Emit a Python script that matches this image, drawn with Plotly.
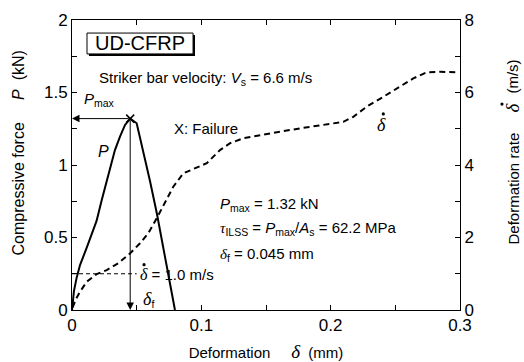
import plotly.graph_objects as go

# Compressive force P (kN) vs deformation (mm)
p_x = [0.0, 0.0005, 0.0015, 0.0036, 0.0062, 0.0114, 0.019, 0.023, 0.0267, 0.0295, 0.0332, 0.0371,
       0.041, 0.0440, 0.045, 0.050, 0.055, 0.0603, 0.0657, 0.0707, 0.0758, 0.0796]
p_val = [0.0, 0.05, 0.13, 0.223, 0.31, 0.43, 0.614, 0.759, 0.89, 0.99, 1.103, 1.195,
         1.276, 1.31, 1.32, 1.288, 1.103, 0.890, 0.662, 0.428, 0.20, 0.0]

# Deformation rate (m/s) vs deformation (mm)
v_x = [0.0005, 0.003, 0.0062, 0.0114, 0.0191, 0.0268, 0.0358, 0.0448, 0.0526, 0.059, 0.0655,
       0.0719, 0.0783, 0.0861, 0.0951, 0.1042, 0.1144, 0.1222, 0.1325, 0.1454, 0.1608,
       0.1763, 0.1918, 0.2098, 0.2175, 0.2279, 0.2407, 0.2536, 0.2639, 0.2743, 0.2845, 0.2975]
v_val = [0.07, 0.30, 0.505, 0.78, 0.99, 1.10, 1.29, 1.56, 1.84, 2.12, 2.53,
         2.95, 3.40, 3.77, 3.91, 4.05, 4.41, 4.60, 4.74, 4.83, 4.92,
         5.01, 5.10, 5.19, 5.33, 5.61, 5.88, 6.16, 6.39, 6.56, 6.57, 6.56]

p_max = 1.32
delta_f = 0.045
v_ref = 1.0

x_ticks = [0, 0.1, 0.2, 0.3]
x_ticklabels = ["0", "0.1", "0.2", "0.3"]
y_ticks = [0, 0.5, 1, 1.5, 2]
y_ticklabels = ["0", "0.5", "1", "1.5", "2"]
y2_ticks = [0, 2, 4, 6, 8]

FONT = "Arial, Liberation Sans, sans-serif"
SERIF = "Times New Roman, Liberation Serif, serif"
NB = "\u00a0"
d = f"<span style='font-family:{SERIF}'><i>δ</i></span>"
tau = f"<span style='font-family:{SERIF}'><i>τ</i></span>"

fig = go.Figure()
fig.add_trace(go.Scatter(x=p_x, y=p_val, mode="lines", line=dict(color="black", width=2),
                         showlegend=False, hoverinfo="skip"))
fig.add_trace(go.Scatter(x=v_x, y=v_val, mode="lines", yaxis="y2",
                         line=dict(color="black", width=2, dash="6px,4px"),
                         showlegend=False, hoverinfo="skip"))
# failure marker
fig.add_trace(go.Scatter(x=[delta_f], y=[p_max], mode="markers",
                         marker=dict(symbol="x-thin", size=8, line=dict(color="black", width=1.5)),
                         showlegend=False, hoverinfo="skip"))
# reference line for 1.0 m/s
fig.add_trace(go.Scatter(x=[0, 0.05], y=[v_ref, v_ref], mode="lines", yaxis="y2",
                         line=dict(color="black", width=1, dash="4px,3px"),
                         showlegend=False, hoverinfo="skip"))

ann = []
# arrows
ann.append(dict(x=0, y=p_max, ax=delta_f, ay=p_max, xref="x", yref="y", axref="x", ayref="y",
                showarrow=True, arrowhead=2, arrowsize=1.5, arrowwidth=1, arrowcolor="black", text=""))
ann.append(dict(x=delta_f, y=0, ax=delta_f, ay=p_max, xref="x", yref="y", axref="x", ayref="y",
                showarrow=True, arrowhead=2, arrowsize=1.5, arrowwidth=1, arrowcolor="black", text=""))

def txt(x, y, t, size=15, xanchor="left", yref="y", xref="x", angle=0):
    ann.append(dict(x=x, y=y, text=t, xref=xref, yref=yref, showarrow=False, textangle=angle,
                    xanchor=xanchor, yanchor="middle", font=dict(family=FONT, size=size, color="black")))

txt(0.0193, 1.60, "Striker bar velocity: <i>V</i><sub>s</sub> = 6.6 m/s")
txt(0.0075, 1.45, "<i>P</i><sub>max</sub>")
txt(0.0773, 1.255, "X: Failure")
txt(0.0185, 1.09, "<i>P</i>", size=16)
txt(0.113, 0.731, "<i>P</i><sub>max</sub> = 1.32 kN")
txt(0.113, 0.559, f"{tau}<sub>ILSS</sub> = <i>P</i><sub>max</sub>/<i>A</i><sub>s</sub> = 62.2 MPa")
txt(0.113, 0.386, f"{d}<sub>f</sub> = 0.045 mm")
txt(0.051, 0.245, f"<span style='font-size:16px'>{d}</span> = 1.0 m/s")
txt(0.0535, 0.072, f"<span style='font-size:18px'>{d}</span><sub>f</sub>")
txt(0.2345, 5.10, f"<span style='font-size:18px'>{d}</span>", yref="y2")
ann.append(dict(x=0.0526, y=1.838, text="UD-CFRP", xref="x", yref="y", showarrow=False,
                xanchor="center", yanchor="middle", font=dict(family=FONT, size=20, color="black")))
# left axis title (rotated)
txt(-0.1366, 0.543, f"Compressive force{NB*5}<i>P</i>{NB*2}(kN)", size=16, xanchor="center",
    yref="paper", xref="paper", angle=-90)
# right axis title (rotated)
txt(1.1366, 0.419, "Deformation rate", xanchor="center", yref="paper", xref="paper", angle=-90)
txt(1.1366, 0.698, f"<span style='font-size:19px'>{d}</span>", xanchor="center", yref="paper",
    xref="paper", angle=-90)
txt(1.1366, 0.805, "(m/s)", xanchor="center", yref="paper", xref="paper", angle=-90)

def dot(xr, yr, xa, ya, r=1.6):
    return dict(type="circle", xref=xr, yref=yr, xsizemode="pixel", ysizemode="pixel",
                xanchor=xa, yanchor=ya, x0=-r, x1=r, y0=-r, y1=r,
                fillcolor="black", line=dict(width=0), layer="above")

shapes = [
    dict(type="rect", xref="x", yref="y", x0=0.0131, x1=0.0951, y0=1.752, y1=1.896,
         fillcolor="black", line=dict(width=0), layer="above"),
    dict(type="rect", xref="x", yref="y", x0=0.0116, x1=0.0936, y0=1.766, y1=1.910,
         fillcolor="white", line=dict(color="black", width=1), layer="above"),
    dot("x", "y2", 0.0557, 1.25),
    dot("x", "y2", 0.2407, 5.41),
    dot("paper", "paper", 1.1082, 0.710),
]

fig.update_layout(
    width=524, height=362,
    margin=dict(l=72, r=64, t=20, b=52),
    plot_bgcolor="white", paper_bgcolor="white",
    font=dict(family=FONT, size=15, color="black"),
    annotations=ann, shapes=shapes,
    xaxis=dict(range=[0, 0.3], tickvals=x_ticks, ticktext=x_ticklabels, automargin=False,
               ticks="inside", ticklen=5, tickcolor="black", showline=True, linecolor="black",
               linewidth=1, mirror="allticks", showgrid=False, zeroline=False,
               minor=dict(dtick=0.05, ticks="inside", ticklen=4, tickcolor="black", showgrid=False),
               tickfont=dict(size=17),
               title=dict(text=f"Deformation{NB*5}<span style='font-size:19px'>{d}</span>{NB*2}(mm)",
                          font=dict(size=15), standoff=15)),
    yaxis=dict(range=[0, 2], tickvals=y_ticks, ticktext=y_ticklabels, automargin=False,
               ticks="inside", ticklen=5, tickcolor="black", showline=True, linecolor="black",
               linewidth=1, showgrid=False, zeroline=False,
               minor=dict(dtick=0.25, ticks="inside", ticklen=5, tickcolor="black", showgrid=False),
               tickfont=dict(size=17)),
    yaxis2=dict(range=[0, 8], overlaying="y", side="right", tickvals=y2_ticks, automargin=False,
                ticks="inside", ticklen=5, tickcolor="black", showline=True, linecolor="black",
                linewidth=1, showgrid=False, zeroline=False,
                minor=dict(dtick=1, ticks="inside", ticklen=5, tickcolor="black", showgrid=False),
                tickfont=dict(size=17)),
)

fig.write_html("out.html")
